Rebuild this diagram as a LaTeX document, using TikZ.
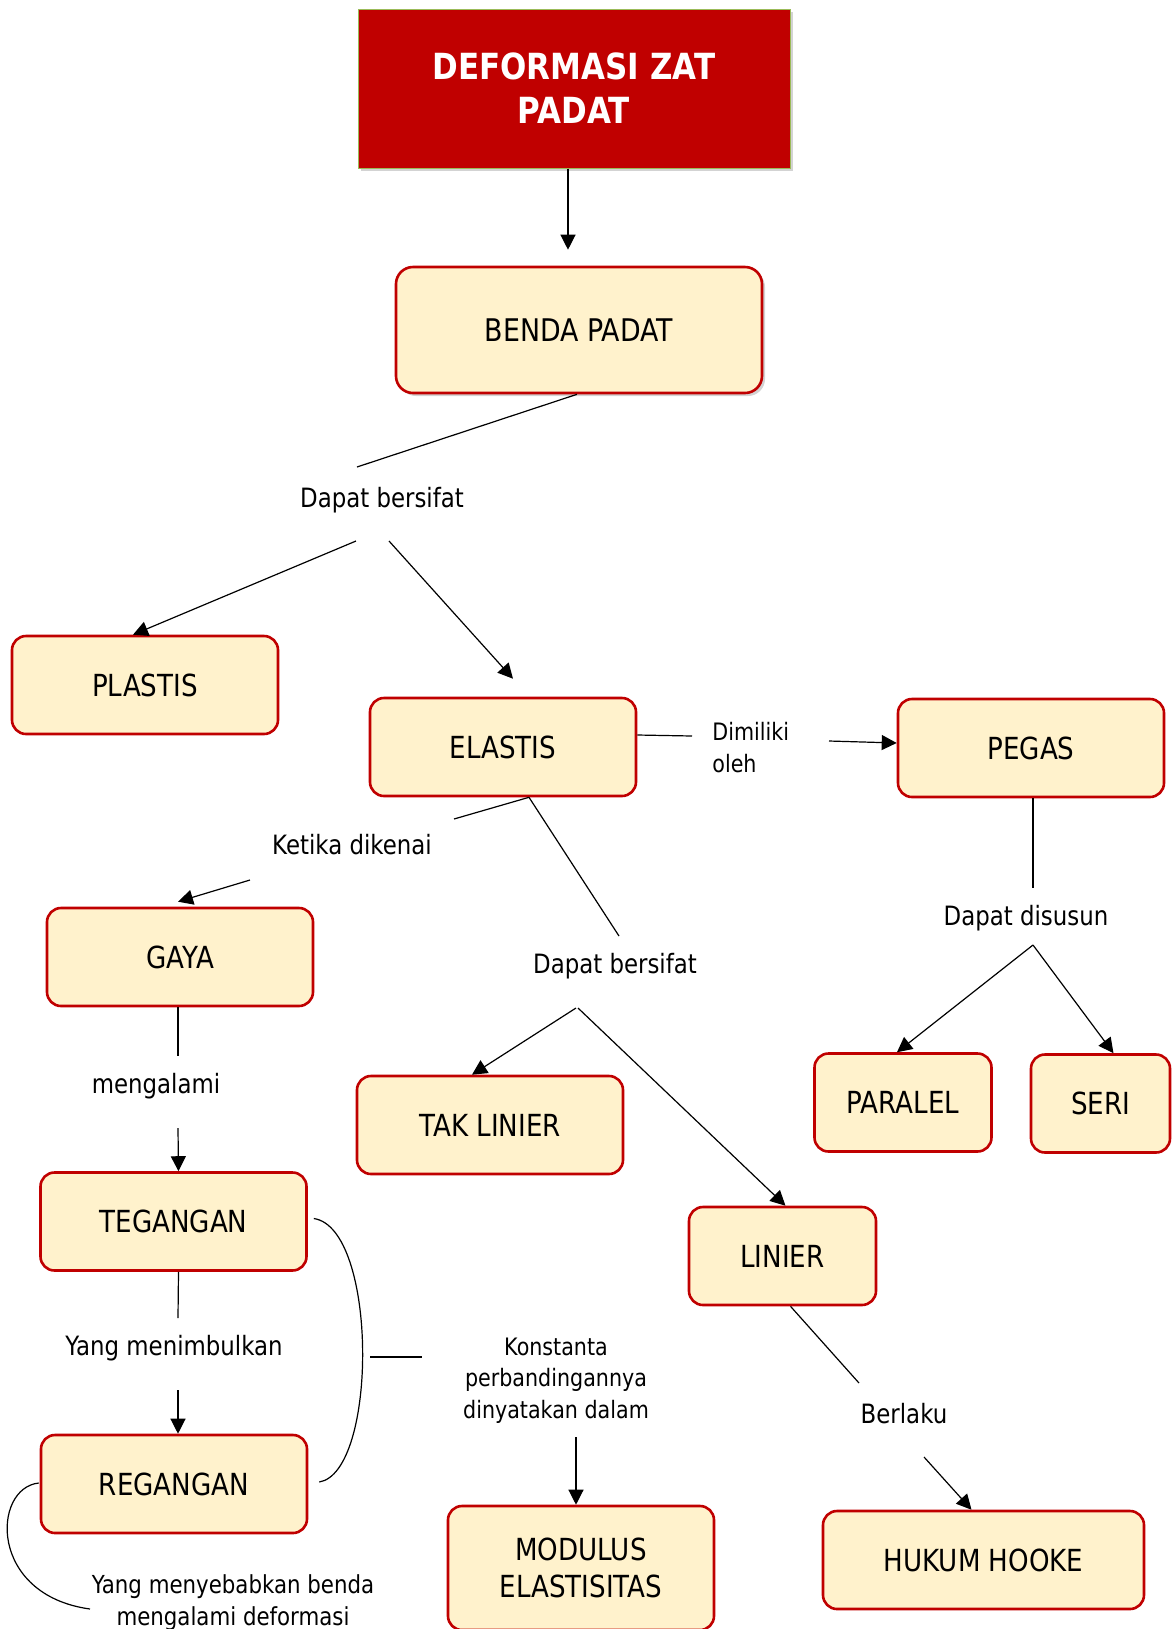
\documentclass[tikz,border=0pt]{standalone}
\usepackage{fontspec}
\setmainfont{DejaVu Sans}[FakeStretch=0.86]
\usetikzlibrary{arrows.meta,shadows}
\definecolor{deepred}{HTML}{C00000}
\definecolor{cream}{HTML}{FFF2CC}
\definecolor{leafgreen}{HTML}{9BBB59}

\begin{document}
\begin{tikzpicture}[x=0.5pt, y=-0.5pt,
  concept/.style={draw=deepred, line width=1.3pt, fill=cream, rounded corners=7pt,
    minimum width=133pt, minimum height=49pt, inner sep=0pt,
    font=\fontsize{15.2}{19}\selectfont, align=center},
  linklabel/.style={font=\fontsize{13.3}{16}\selectfont, inner sep=0pt, anchor=base},
  notelabel/.style={font=\fontsize{12}{15.75}\selectfont, inner sep=0pt, align=center},
  tie/.style={line width=0.6pt},
  tiehead/.style={line width=0.6pt, -{Triangle[length=7.5pt,width=7.5pt]}}]
  \clip (0,0) rectangle (1172,1629);

  % Judul
  \node[fill=deepred, draw=leafgreen, line width=0.5pt, minimum width=216pt, minimum height=79.5pt,
    text=white, font=\fontsize{18}{22}\selectfont\bfseries, align=center,
    drop shadow={opacity=0.35, shadow xshift=1.5pt, shadow yshift=-1.5pt}]
    (title) at (574,88.5) {DEFORMASI ZAT\\PADAT};

  % Konsep
  \node[concept, minimum width=183pt, minimum height=63pt, rounded corners=8.5pt,
    font=\fontsize{15.6}{19}\selectfont,
    drop shadow={opacity=0.35, shadow xshift=1.5pt, shadow yshift=-1.5pt}]
    (benda) at (579,330) {BENDA PADAT};
  \node[concept] (plastis) at (145,685) {PLASTIS};
  \node[concept] (elastis) at (503,747) {ELASTIS};
  \node[concept] (pegas) at (1031,748) {PEGAS};
  \node[concept] (gaya) at (180,957) {GAYA};
  \node[concept] (taklinier) at (490,1125) {TAK LINIER};
  \node[concept, minimum width=88.5pt] (paralel) at (903,1102.5) {PARALEL};
  \node[concept, minimum width=69.5pt] (seri) at (1100.5,1103.5) {SERI};
  \node[concept] (tegangan) at (173.5,1221.5) {TEGANGAN};
  \node[concept, minimum width=93.5pt] (linier) at (782.5,1256) {LINIER};
  \node[concept] (regangan) at (174,1484) {REGANGAN};
  \node[concept, minimum height=62pt, font=\fontsize{15.2}{18.5}\selectfont]
    (modulus) at (581,1568) {MODULUS\\ELASTISITAS};
  \node[concept, minimum width=160.5pt] (hooke) at (983.5,1560) {HUKUM HOOKE};

  % Kata penghubung
  \node[linklabel] (sifatA) at (382,507) {Dapat bersifat};
  \node[linklabel] (ketika) at (352,854) {Ketika dikenai};
  \node[linklabel] (sifatB) at (615,973) {Dapat bersifat};
  \node[linklabel] (disusun) at (1026,925) {Dapat disusun};
  \node[linklabel] (mengalami) at (156,1093) {mengalami};
  \node[linklabel] (menimbulkan) at (174,1355) {Yang menimbulkan};
  \node[linklabel] (berlaku) at (904,1423) {Berlaku};
  \node[notelabel, anchor=base west, align=left] (dimiliki) at (712,772) {Dimiliki\\oleh};
  \node[notelabel, anchor=base] (konstanta) at (556,1418) {Konstanta\\perbandingannya\\dinyatakan dalam};
  \node[notelabel, anchor=base, font=\fontsize{12.4}{16}\selectfont] (sebab) at (233,1625) {Yang menyebabkan benda\\mengalami deformasi};
  \coordinate (kurung) at (370,1357);

  % Garis
  \draw[tiehead] ([shift={(-6,0)}]title.south) -- ([shift={(-11,-16)}]benda.north);
  \draw[tie] ([shift={(-2,0)}]benda.south) -- ([shift={(-25,-40)}]sifatA.base);
  \draw[tiehead] ([shift={(-26,34)}]sifatA.base) -- ([shift={(-12,0)}]plastis.north);
  \draw[tiehead] ([shift={(7,34)}]sifatA.base) -- ([shift={(10,-18)}]elastis.north);
  \draw[tie] ([shift={(0,-12)}]elastis.east) -- ([shift={(-20,-36)}]dimiliki.base west);
  \draw[tiehead] ([shift={(117,-31)}]dimiliki.base west) -- ([shift={(0,-5)}]pegas.west);
  \draw[tie] ([shift={(26,0)}]elastis.south) -- ([shift={(102,-35)}]ketika.base);
  \draw[tiehead] ([shift={(-102,26)}]ketika.base) -- ([shift={(-2,-5)}]gaya.north);
  \draw[tie] ([shift={(26,0)}]elastis.south) -- ([shift={(4,-37)}]sifatB.base);
  \draw[tiehead] ([shift={(-39,35)}]sifatB.base) -- ([shift={(-18,0)}]taklinier.north);
  \draw[tiehead] ([shift={(-37,35)}]sifatB.base) -- ([shift={(3,0)}]linier.north);
  \draw[tie] ([shift={(2,0)}]pegas.south) -- ([shift={(7,-37)}]disusun.base);
  \draw[tiehead] ([shift={(7,20)}]disusun.base) -- ([shift={(-6,0)}]paralel.north);
  \draw[tiehead] ([shift={(7,20)}]disusun.base) -- ([shift={(13,0)}]seri.north);
  \draw[tie] ([shift={(-2,0)}]gaya.south) -- ([shift={(22,-37)}]mengalami.base);
  \draw[tiehead] ([shift={(22,35)}]mengalami.base) -- ([shift={(5,0)}]tegangan.north);
  \draw[tie] ([shift={(5,0)}]tegangan.south) -- ([shift={(4,-37)}]menimbulkan.base);
  \draw[tiehead] ([shift={(4,35)}]menimbulkan.base) -- ([shift={(4,0)}]regangan.north);
  \draw[tie] ([shift={(6,-3)}]tegangan.east) .. controls (378,1228) and (378,1472) .. ([shift={(11,-2)}]regangan.east);
  \draw[tie] (kurung) -- ([shift={(-134,-61)}]konstanta.base);
  \draw[tiehead] ([shift={(20,19)}]konstanta.base) -- ([shift={(-5,0)}]modulus.north);
  \draw[tie] ([shift={(8,0)}]linier.south) -- ([shift={(-45,-40)}]berlaku.base);
  \draw[tiehead] ([shift={(20,34)}]berlaku.base) -- ([shift={(-12,0)}]hooke.north);
  \draw[tie] ([shift={(-1,-1)}]regangan.west) .. controls (-8,1488) and (-12,1595) .. ([shift={(-143,-16)}]sebab.base);
\end{tikzpicture}
\end{document}
